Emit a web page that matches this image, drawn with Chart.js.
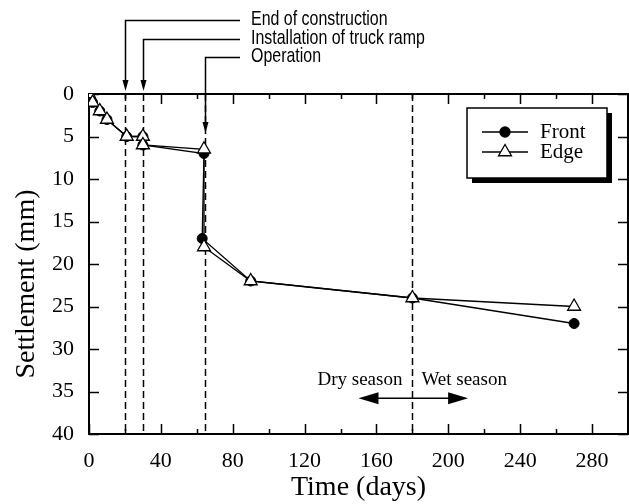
<!DOCTYPE html>
<html>
<head>
<meta charset="utf-8">
<script src="https://cdn.jsdelivr.net/npm/chart.js@4/dist/chart.umd.min.js"></script>
<style>
  html, body { margin: 0; padding: 0; background: #fff; }
</style>
</head>
<body>
<canvas id="myChart" width="629" height="504"></canvas>
<script>
// data
const frontDays = [0, 2, 6, 10, 21, 30, 30, 64, 63, 90, 180, 270];
const frontSettlement = [0, 1, 2, 3, 5, 5, 6, 7, 17, 22, 24, 27];
const edgeDays = [0, 2, 6, 10, 21, 30, 30, 64, 64, 90, 180, 270];
const edgeSettlement = [0, 1, 2, 3, 5, 5, 6, 6.5, 18, 22, 24, 25];

const eventDays = [20, 30, 64.5];
const eventLabels = ["End of construction", "Installation of truck ramp", "Operation"];
const seasonDay = 180;

const xTicks = [0, 40, 80, 120, 160, 200, 240, 280];
const yTicks = [0, 5, 10, 15, 20, 25, 30, 35, 40];

const serif = '"Liberation Serif", "Times New Roman", serif';
const sans = '"Liberation Sans", Arial, sans-serif';

function arrowHead(ctx, x, y, dx, dy, len, half) {
  // tip at (x,y), pointing along (dx,dy)
  const px = -dy, py = dx;
  ctx.beginPath();
  ctx.moveTo(x, y);
  ctx.lineTo(x - dx * len + px * half, y - dy * len + py * half);
  ctx.lineTo(x - dx * len - px * half, y - dy * len - py * half);
  ctx.closePath();
  ctx.fill();
}

const decorations = {
  id: "decorations",
  beforeDatasetsDraw(chart) {
    const { ctx, chartArea: a, scales: { x, y } } = chart;
    ctx.save();
    ctx.strokeStyle = "#000";
    ctx.fillStyle = "#000";

    // dashed event lines
    ctx.lineWidth = 1.5;
    ctx.setLineDash([7, 4]);
    [...eventDays, seasonDay].forEach(d => {
      const px = Math.round(x.getPixelForValue(d)) + 0.5;
      ctx.beginPath();
      ctx.moveTo(px, a.top);
      ctx.lineTo(px, a.bottom);
      ctx.stroke();
    });
    ctx.setLineDash([]);

    // inward ticks on all four sides
    for (let d = 0; d <= 300; d += 20) {
      const px = Math.round(x.getPixelForValue(d)) + 0.5;
      const len = d % 40 === 0 ? 10 : 5;
      ctx.beginPath();
      ctx.moveTo(px, a.bottom); ctx.lineTo(px, a.bottom - len);
      ctx.moveTo(px, a.top); ctx.lineTo(px, a.top + len);
      ctx.stroke();
    }
    yTicks.forEach(v => {
      const py = Math.round(y.getPixelForValue(v)) + 0.5;
      ctx.beginPath();
      ctx.moveTo(a.left, py); ctx.lineTo(a.left + 10, py);
      ctx.moveTo(a.right, py); ctx.lineTo(a.right - 10, py);
      ctx.stroke();
    });

    // frame
    ctx.lineWidth = 2;
    ctx.strokeRect(a.left, a.top, a.right - a.left, a.bottom - a.top);
    ctx.restore();
  },
  afterDraw(chart) {
    const { ctx, chartArea: a, scales: { x, y } } = chart;
    ctx.save();
    ctx.strokeStyle = "#000";
    ctx.fillStyle = "#000";
    ctx.lineWidth = 1.5;

    // event arrows with labels (narrow lettering)
    const labelY = [20, 39, 57];
    const tipY = [a.top - 3, a.top - 3, y.getPixelForValue(4.6)];
    const elbowX = 240;
    eventDays.forEach((d, i) => {
      const px = Math.round(x.getPixelForValue(d)) + 0.5;
      ctx.beginPath();
      ctx.moveTo(elbowX, labelY[i] + 0.5);
      ctx.lineTo(px, labelY[i] + 0.5);
      ctx.lineTo(px, tipY[i] - 8);
      ctx.stroke();
      arrowHead(ctx, px, tipY[i], 0, 1, 11, 3);
      ctx.save();
      ctx.translate(251, labelY[i] - 1);
      ctx.scale(0.76, 1);
      ctx.font = "21px " + sans;
      ctx.textBaseline = "middle";
      ctx.textAlign = "left";
      ctx.fillText(eventLabels[i], 0, 0);
      ctx.restore();
    });

    // dry / wet season
    const sx = x.getPixelForValue(seasonDay);
    const ay = y.getPixelForValue(35.8);
    const x0 = x.getPixelForValue(150), x1 = x.getPixelForValue(211);
    ctx.beginPath();
    ctx.moveTo(x0 + 15, ay); ctx.lineTo(x1 - 15, ay);
    ctx.stroke();
    arrowHead(ctx, x0, ay, -1, 0, 20, 6);
    arrowHead(ctx, x1, ay, 1, 0, 20, 6);
    ctx.font = "19px " + serif;
    ctx.textBaseline = "middle";
    const ty = y.getPixelForValue(33.6);
    ctx.textAlign = "right";
    ctx.fillText("Dry season", sx - 10, ty);
    ctx.textAlign = "left";
    ctx.fillText("Wet season", sx + 9, ty);

    // legend box with shadow
    const lx = 467, ly = 108, lw = 140, lh = 70;
    ctx.fillRect(lx + 5, ly + 5, lw, lh);
    ctx.fillStyle = "#fff";
    ctx.fillRect(lx, ly, lw, lh);
    ctx.lineWidth = 1.5;
    ctx.strokeRect(lx, ly, lw, lh);
    ctx.font = "21px " + serif;
    ctx.textAlign = "left";
    chart.data.datasets.forEach((ds, i) => {
      const ry = ly + 24 + i * 20;
      ctx.lineWidth = 1.3;
      ctx.beginPath();
      ctx.moveTo(482, ry); ctx.lineTo(528, ry);
      ctx.stroke();
      ctx.fillStyle = ds.pointBackgroundColor;
      Chart.helpers.drawPoint(ctx, {
        pointStyle: ds.pointStyle, radius: ds.pointRadius, borderWidth: 1.3
      }, 505, ry);
      ctx.fillStyle = "#000";
      ctx.fillText(ds.label, 540, ry);
    });
    ctx.restore();

    // axis titles
    ctx.save();
    ctx.fillStyle = "#000";
    ctx.font = "28px " + serif;
    ctx.textAlign = "center";
    ctx.textBaseline = "middle";
    ctx.fillText("Time (days)", (a.left + a.right) / 2, 488);
    ctx.translate(27, 284);
    ctx.rotate(-Math.PI / 2);
    ctx.fillText("Settlement (mm)", 0, 0);
    ctx.restore();
  }
};

const toPoints = (xs, ys) => xs.map((v, i) => ({ x: v, y: ys[i] }));

new Chart(document.getElementById("myChart"), {
  type: "scatter",
  data: {
    datasets: [
      {
        label: "Front",
        data: toPoints(frontDays, frontSettlement),
        order: 1,
        showLine: true,
        borderColor: "#000",
        backgroundColor: "#000",
        borderWidth: 1.3,
        pointStyle: "circle",
        pointRadius: 5,
        pointBackgroundColor: "#000",
        pointBorderWidth: 1,
      },
      {
        label: "Edge",
        data: toPoints(edgeDays, edgeSettlement),
        order: 0,
        showLine: true,
        borderColor: "#000",
        backgroundColor: "#fff",
        borderWidth: 1.3,
        pointStyle: "triangle",
        pointRadius: 7.5,
        pointBackgroundColor: "#fff",
        pointBorderWidth: 1.3,
      },
    ],
  },
  options: {
    responsive: false,
    animation: false,
    devicePixelRatio: 1,
    layout: { autoPadding: false, padding: { top: 94, right: 1, left: 0, bottom: 0 } },
    plugins: { legend: { display: false }, tooltip: { enabled: false } },
    scales: {
      x: {
        type: "linear",
        min: 0,
        max: 300,
        afterFit: s => { s.height = 70; s.paddingLeft = 0; s.paddingRight = 0; },
        afterBuildTicks: s => { s.ticks = xTicks.map(v => ({ value: v })); },
        grid: { display: false },
        border: { display: false },
        ticks: { color: "#000", font: { family: serif, size: 22 }, padding: 6, maxRotation: 0, autoSkip: false },
      },
      y: {
        type: "linear",
        reverse: true,
        min: 0,
        max: 40,
        afterFit: s => { s.width = 89; s.paddingTop = 0; s.paddingBottom = 0; },
        afterBuildTicks: s => { s.ticks = yTicks.map(v => ({ value: v })); },
        grid: { display: false },
        border: { display: false },
        ticks: { color: "#000", font: { family: serif, size: 22 }, padding: 7, autoSkip: false },
      },
    },
  },
  plugins: [decorations],
});
</script>
</body>
</html>
